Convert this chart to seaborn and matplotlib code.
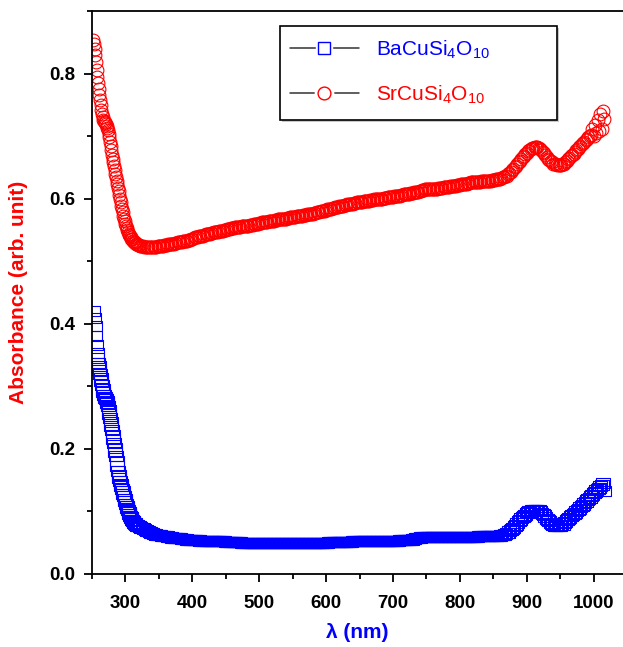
import numpy as np
import pandas as pd
import matplotlib
matplotlib.use("Agg")
import matplotlib.pyplot as plt
import seaborn as sns
from matplotlib.path import Path
from matplotlib.lines import Line2D
from matplotlib.patches import Rectangle
from matplotlib.ticker import MultipleLocator, FormatStrFormatter
from matplotlib.legend_handler import HandlerTuple

# ---------------- data ----------------
# wavelength grid: 1 nm steps on the absorption edge, 2 nm steps afterwards
wavelength = np.concatenate([np.arange(252, 320, 1), np.arange(320, 1017, 2)])

sr_edge = [0.853, 0.848, 0.840, 0.829, 0.818, 0.806, 0.795, 0.785, 0.775, 0.766,
           0.757, 0.749, 0.742, 0.736, 0.730, 0.726, 0.724, 0.722, 0.721, 0.719,
           0.716, 0.713, 0.710, 0.704, 0.698, 0.691, 0.684, 0.677, 0.670, 0.664,
           0.658, 0.652, 0.646, 0.640, 0.634, 0.628, 0.623, 0.617, 0.612, 0.606,
           0.600, 0.594, 0.589, 0.583, 0.578, 0.573, 0.568, 0.564, 0.560, 0.556,
           0.553, 0.550, 0.547, 0.544, 0.542, 0.540, 0.538, 0.536, 0.535, 0.533,
           0.532, 0.531, 0.530, 0.529, 0.528, 0.527, 0.527, 0.526]
sr_rest = [
    0.526, 0.525, 0.524, 0.524, 0.523, 0.523, 0.523, 0.523, 0.522, 0.523, 0.523, 0.523, 0.523,
    0.523, 0.524, 0.524, 0.524, 0.525, 0.525, 0.526, 0.526, 0.526, 0.527, 0.527, 0.528,
    0.528, 0.528, 0.529, 0.529, 0.530, 0.530, 0.531, 0.531, 0.532, 0.532, 0.532, 0.533, 0.534,
    0.534, 0.535, 0.536, 0.537, 0.538, 0.538, 0.539, 0.540, 0.540, 0.541, 0.541, 0.542,
    0.543, 0.543, 0.544, 0.544, 0.545, 0.545, 0.546, 0.546, 0.547, 0.547, 0.548, 0.548, 0.549,
    0.549, 0.550, 0.550, 0.551, 0.552, 0.552, 0.553, 0.553, 0.553, 0.554, 0.554, 0.555,
    0.555, 0.555, 0.556, 0.556, 0.557, 0.557, 0.557, 0.557, 0.558, 0.558, 0.558, 0.559, 0.559,
    0.560, 0.560, 0.561, 0.561, 0.562, 0.562, 0.563, 0.563, 0.563, 0.564, 0.564, 0.565,
    0.565, 0.565, 0.566, 0.566, 0.567, 0.567, 0.567, 0.567, 0.568, 0.568, 0.568, 0.569, 0.569,
    0.570, 0.570, 0.570, 0.571, 0.571, 0.572, 0.572, 0.572, 0.573, 0.573, 0.574, 0.574,
    0.574, 0.575, 0.575, 0.576, 0.576, 0.576, 0.577, 0.577, 0.578, 0.579, 0.579, 0.580, 0.580,
    0.581, 0.581, 0.582, 0.583, 0.583, 0.584, 0.584, 0.585, 0.585, 0.586, 0.587, 0.587,
    0.588, 0.588, 0.589, 0.589, 0.590, 0.590, 0.591, 0.591, 0.591, 0.592, 0.592, 0.593, 0.593,
    0.594, 0.594, 0.594, 0.595, 0.595, 0.596, 0.596, 0.596, 0.597, 0.597, 0.598, 0.598,
    0.598, 0.599, 0.599, 0.599, 0.599, 0.599, 0.600, 0.600, 0.601, 0.601, 0.601, 0.602, 0.602,
    0.603, 0.603, 0.603, 0.604, 0.604, 0.605, 0.605, 0.605, 0.606, 0.606, 0.607, 0.607,
    0.607, 0.608, 0.608, 0.609, 0.609, 0.609, 0.610, 0.610, 0.611, 0.611, 0.612, 0.613, 0.614,
    0.614, 0.615, 0.615, 0.615, 0.615, 0.615, 0.616, 0.616, 0.616, 0.616, 0.616, 0.617,
    0.617, 0.617, 0.617, 0.618, 0.618, 0.618, 0.619, 0.619, 0.620, 0.620, 0.620, 0.621, 0.621,
    0.622, 0.622, 0.622, 0.623, 0.623, 0.624, 0.624, 0.624, 0.625, 0.625, 0.626, 0.626,
    0.626, 0.626, 0.626, 0.627, 0.627, 0.627, 0.628, 0.628, 0.628, 0.628, 0.628, 0.629, 0.629,
    0.629, 0.630, 0.630, 0.630, 0.631, 0.631, 0.632, 0.632, 0.633, 0.634, 0.635, 0.636,
    0.637, 0.639, 0.641, 0.643, 0.646, 0.648, 0.651, 0.653, 0.656, 0.658, 0.661, 0.664, 0.666,
    0.669, 0.671, 0.673, 0.676, 0.678, 0.680, 0.681, 0.681, 0.682, 0.682, 0.682, 0.681,
    0.679, 0.677, 0.675, 0.673, 0.670, 0.667, 0.664, 0.662, 0.660, 0.658, 0.656, 0.655, 0.655,
    0.654, 0.654, 0.654, 0.654, 0.655, 0.656, 0.658, 0.660, 0.663, 0.665, 0.668, 0.670,
    0.672, 0.674, 0.677, 0.679, 0.682, 0.684, 0.687, 0.689, 0.691, 0.693, 0.696, 0.698,
    0.700, 0.702, 0.712, 0.700, 0.718, 0.705, 0.725, 0.708, 0.735, 0.712, 0.740, 0.728]

ba_edge = [0.420, 0.410, 0.396, 0.380, 0.366, 0.354, 0.345, 0.338, 0.332, 0.326,
           0.320, 0.314, 0.308, 0.302, 0.296, 0.291, 0.286, 0.283, 0.281, 0.279,
           0.277, 0.273, 0.268, 0.262, 0.256, 0.250, 0.243, 0.237, 0.230, 0.223,
           0.216, 0.209, 0.202, 0.195, 0.188, 0.180, 0.172, 0.165, 0.158, 0.153,
           0.148, 0.144, 0.140, 0.136, 0.132, 0.128, 0.124, 0.120, 0.116, 0.112,
           0.108, 0.105, 0.102, 0.099, 0.096, 0.093, 0.091, 0.089, 0.087, 0.085,
           0.084, 0.082, 0.081, 0.080, 0.079, 0.078, 0.077, 0.077]
ba_rest = [
    0.076, 0.075, 0.074, 0.073, 0.072, 0.070, 0.069, 0.068, 0.067, 0.066, 0.065, 0.064, 0.064,
    0.063, 0.063, 0.062, 0.062, 0.061, 0.061, 0.061, 0.060, 0.060, 0.059, 0.059, 0.059,
    0.058, 0.058, 0.058, 0.057, 0.057, 0.057, 0.057, 0.056, 0.056, 0.056, 0.056, 0.055, 0.055,
    0.055, 0.055, 0.055, 0.054, 0.054, 0.054, 0.054, 0.054, 0.053, 0.053, 0.053, 0.053,
    0.053, 0.053, 0.053, 0.053, 0.052, 0.052, 0.052, 0.052, 0.052, 0.052, 0.052, 0.052, 0.052,
    0.052, 0.052, 0.051, 0.051, 0.051, 0.051, 0.051, 0.051, 0.051, 0.051, 0.051, 0.051,
    0.051, 0.051, 0.050, 0.050, 0.050, 0.050, 0.050, 0.050, 0.050, 0.050, 0.050, 0.050, 0.050,
    0.050, 0.050, 0.050, 0.050, 0.050, 0.050, 0.050, 0.050, 0.050, 0.050, 0.050, 0.050,
    0.050, 0.050, 0.050, 0.049, 0.049, 0.049, 0.050, 0.050, 0.050, 0.050, 0.050, 0.049, 0.049,
    0.050, 0.050, 0.050, 0.050, 0.050, 0.050, 0.050, 0.050, 0.050, 0.050, 0.050, 0.050,
    0.050, 0.050, 0.050, 0.050, 0.050, 0.050, 0.050, 0.050, 0.050, 0.050, 0.050, 0.050, 0.050,
    0.050, 0.050, 0.050, 0.050, 0.051, 0.051, 0.051, 0.051, 0.051, 0.051, 0.051, 0.051,
    0.051, 0.051, 0.051, 0.051, 0.051, 0.051, 0.051, 0.051, 0.051, 0.051, 0.052, 0.052, 0.052,
    0.052, 0.052, 0.052, 0.052, 0.052, 0.052, 0.052, 0.052, 0.052, 0.052, 0.052, 0.052,
    0.052, 0.052, 0.052, 0.052, 0.052, 0.053, 0.053, 0.053, 0.053, 0.053, 0.053, 0.053, 0.053,
    0.053, 0.053, 0.053, 0.053, 0.053, 0.053, 0.053, 0.054, 0.054, 0.054, 0.054, 0.054,
    0.054, 0.054, 0.055, 0.055, 0.055, 0.056, 0.056, 0.057, 0.057, 0.058, 0.058, 0.059, 0.059,
    0.059, 0.059, 0.059, 0.059, 0.059, 0.059, 0.059, 0.059, 0.059, 0.059, 0.059, 0.059,
    0.059, 0.059, 0.059, 0.059, 0.059, 0.059, 0.059, 0.059, 0.059, 0.059, 0.059, 0.059, 0.059,
    0.059, 0.059, 0.059, 0.059, 0.059, 0.059, 0.059, 0.059, 0.059, 0.059, 0.059, 0.059,
    0.059, 0.059, 0.059, 0.059, 0.060, 0.060, 0.060, 0.060, 0.060, 0.060, 0.060, 0.060, 0.060,
    0.060, 0.060, 0.060, 0.060, 0.061, 0.061, 0.061, 0.061, 0.062, 0.062, 0.063, 0.064,
    0.065, 0.066, 0.068, 0.070, 0.072, 0.074, 0.076, 0.079, 0.081, 0.084, 0.086, 0.089, 0.091,
    0.093, 0.095, 0.097, 0.099, 0.100, 0.101, 0.102, 0.103, 0.103, 0.103, 0.103, 0.102,
    0.100, 0.098, 0.096, 0.094, 0.091, 0.088, 0.086, 0.084, 0.082, 0.080, 0.078, 0.077, 0.076,
    0.076, 0.076, 0.077, 0.078, 0.079, 0.081, 0.083, 0.086, 0.088, 0.090, 0.092, 0.094,
    0.096, 0.098, 0.100, 0.102, 0.104, 0.107, 0.109, 0.111, 0.113, 0.115, 0.118, 0.120,
    0.122, 0.125, 0.127, 0.129, 0.131, 0.134, 0.136, 0.138, 0.141, 0.143, 0.145, 0.132]

sr_abs = np.array(sr_edge + sr_rest)
ba_abs = np.array(ba_edge + ba_rest)

x_ticks = [300, 400, 500, 600, 700, 800, 900, 1000]
y_ticks = [0.0, 0.2, 0.4, 0.6, 0.8]
labels = ["BaCuSi$_4$O$_{10}$", "SrCuSi$_4$O$_{10}$"]

df_ba = pd.DataFrame({"wl": wavelength, "A": ba_abs})
df_sr = pd.DataFrame({"wl": wavelength, "A": sr_abs})

# ---------------- style ----------------
sns.set_style("ticks")
plt.rcParams["font.family"] = ["Liberation Sans", "DejaVu Sans"]
plt.rcParams["mathtext.default"] = "regular"

RED = "#FF0000"
BLUE = "#0000FF"

W, H = 623, 647
fig = plt.figure(figsize=(W / 100, H / 100), dpi=100)
ax = fig.add_axes([92 / W, (H - 574) / H, (W - 92) / W, (574 - 11) / H])

rect_marker = Path([(-1, -0.75), (1, -0.75), (1, 0.75), (-1, 0.75), (-1, -0.75)],
                   [Path.MOVETO, Path.LINETO, Path.LINETO, Path.LINETO, Path.CLOSEPOLY])

sns.lineplot(data=df_ba, x="wl", y="A", ax=ax, sort=False, estimator=None,
             linestyle="", marker=rect_marker, markersize=10,
             markerfacecolor="none", markeredgecolor=BLUE, markeredgewidth=0.8)
sns.lineplot(data=df_sr, x="wl", y="A", ax=ax, sort=False, estimator=None,
             linestyle="", marker="o", markersize=9.2,
             markerfacecolor="none", markeredgecolor=RED, markeredgewidth=0.8)

ax.set_xlim(250, 1044)
ax.set_ylim(0, 0.9)
ax.set_xticks(x_ticks)
ax.set_yticks(y_ticks)
ax.xaxis.set_minor_locator(MultipleLocator(50))
ax.yaxis.set_minor_locator(MultipleLocator(0.1))
ax.yaxis.set_major_formatter(FormatStrFormatter("%.1f"))

for s in ["left", "bottom", "top"]:
    ax.spines[s].set_visible(True)
    ax.spines[s].set_color("black")
    ax.spines[s].set_linewidth(1.3)
ax.spines["right"].set_visible(False)

ax.tick_params(axis="both", which="major", direction="out", length=6, width=1.3,
               color="black", labelsize=13.5, pad=6)
ax.tick_params(axis="both", which="minor", direction="out", length=3.5, width=1.3,
               color="black")
ax.tick_params(axis="x", which="major", pad=9)
ax.tick_params(top=False, right=False, which="both")
for lab in ax.get_xticklabels() + ax.get_yticklabels():
    lab.set_fontweight("bold")
    lab.set_color("black")

ax.set_xlabel("λ (nm)", color=BLUE, fontsize=15, fontweight="bold", labelpad=8)
ax.set_ylabel("Absorbance (arb. unit)", color=RED, fontsize=15, fontweight="bold",
              labelpad=15)

# ---------------- legend ----------------
def handle(marker, color, size):
    line = Line2D([], [], color="#333333", lw=1.1)
    blank = Line2D([], [], ls="", marker=marker, markersize=size + 4,
                   markerfacecolor="white", markeredgecolor="white")
    mk = Line2D([], [], ls="", marker=marker, markersize=size,
                markerfacecolor="none", markeredgecolor=color, markeredgewidth=1.0)
    return (line, blank, mk)

handles = [handle("s", BLUE, 8.0), handle("o", RED, 9.2)]
shadow = Rectangle((282 / W, (H - 122) / H), 277 / W, 94 / H, transform=fig.transFigure,
                   facecolor="#c8c8c8", edgecolor="none", zorder=5)
frame = Rectangle((280 / W, (H - 120) / H), 277 / W, 94 / H, transform=fig.transFigure,
                  facecolor="white", edgecolor="black", linewidth=1.2, zorder=6)
fig.add_artist(shadow)
fig.add_artist(frame)
leg = fig.legend(handles, labels, handler_map={tuple: HandlerTuple(ndivide=1)},
                 loc="center left", bbox_to_anchor=(290 / W, 1 - 72 / H),
                 frameon=False, fontsize=15, numpoints=1, handlelength=3.3,
                 handletextpad=0.85, labelspacing=1.1, borderpad=0, borderaxespad=0)
leg.set_zorder(7)
for t, c in zip(leg.get_texts(), [BLUE, RED]):
    t.set_color(c)

fig.savefig("out.png", dpi=100)
